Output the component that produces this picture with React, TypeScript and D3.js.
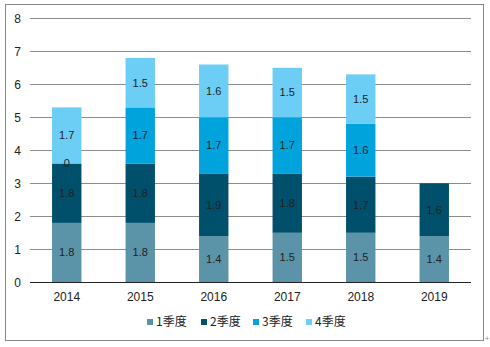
import React from "react";
import * as d3 from "d3";

const years = ["2014", "2015", "2016", "2017", "2018", "2019"];
const seriesNames = ["1季度", "2季度", "3季度", "4季度"];
const q1 = [1.8, 1.8, 1.4, 1.5, 1.5, 1.4];
const q2 = [1.8, 1.8, 1.9, 1.8, 1.7, 1.6];
const q3: (number | null)[] = [0, 1.7, 1.7, 1.7, 1.6, null];
const q4: (number | null)[] = [1.7, 1.5, 1.6, 1.5, 1.5, null];
const yTicks = [0, 1, 2, 3, 4, 5, 6, 7, 8];
const colors = ["#5B93A8", "#00506B", "#00A3DB", "#6CCEF5"];

export default function App() {
  const W = 490, H = 347;
  const left = 30, right = 471, top = 18.3, bottom = 282.3;
  const x = d3.scaleBand<string>().domain(years).range([left, right]).paddingInner(0.6).paddingOuter(0.3);
  const y = d3.scaleLinear().domain([0, 8]).range([bottom, top]);
  const all = [q1, q2, q3, q4];
  const segs: { key: string; x: number; y0: number; y1: number; v: number; c: string }[] = [];
  years.forEach((yr, i) => {
    let acc = 0;
    all.forEach((s, k) => {
      const v = s[i];
      if (v === null || v === undefined) return;
      segs.push({ key: yr + k, x: x(yr)!, y0: acc, y1: acc + v, v, c: colors[k] });
      acc += v;
    });
  });
  const font = "Arial, 'Liberation Sans', sans-serif";
  const legendX = [147, 201, 253, 306];
  return (
    <svg width={W} height={H} style={{ position: "absolute", left: 0, top: 0 }}>
      <rect x={0} y={0} width={W} height={H} fill="#fff" />
      <rect x={5.5} y={4.5} width={478} height={336} fill="none" stroke="#888" strokeWidth={1} />
      {yTicks.map((t) => (
        <g key={t}>
          {t > 0 && <line x1={left} x2={right} y1={Math.round(y(t)) + 0.5} y2={Math.round(y(t)) + 0.5} stroke="#8c8c8c" strokeWidth={1} />}
          <text x={21} y={y(t)} dy="0.35em" textAnchor="end" fontFamily={font} fontSize={12} fill="#222">{t}</text>
        </g>
      ))}
      {segs.map((s) => (
        <rect key={s.key} x={s.x} y={y(s.y1)} width={x.bandwidth()} height={y(s.y0) - y(s.y1)} fill={s.c} />
      ))}
      <line x1={left} x2={right} y1={Math.round(bottom) + 0.5} y2={Math.round(bottom) + 0.5} stroke="#222" strokeWidth={1} />
      {segs.map((s) => (
        <text key={"t" + s.key} x={s.x + x.bandwidth() / 2} y={y((s.y0 + s.y1) / 2)} dy="0.35em" textAnchor="middle" fontFamily={font} fontSize={11} fill="#222">{d3.format("")(s.v)}</text>
      ))}
      {years.map((yr) => (
        <text key={yr} x={x(yr)! + x.bandwidth() / 2} y={297} dy="0.35em" textAnchor="middle" fontFamily={font} fontSize={12} fill="#222">{yr}</text>
      ))}
      {seriesNames.map((n, k) => (
        <g key={n}>
          <rect x={legendX[k]} y={319} width={6} height={6} fill={colors[k]} />
          <text x={legendX[k] + 9} y={322} dy="0.35em" fontFamily="'Noto Sans CJK SC', sans-serif" fontSize={12} fill="#222">{n}</text>
        </g>
      ))}
      <text x={487} y={338} dy="0.35em" textAnchor="middle" fontFamily={font} fontSize={8} fill="#888">+</text>
    </svg>
  );
}
